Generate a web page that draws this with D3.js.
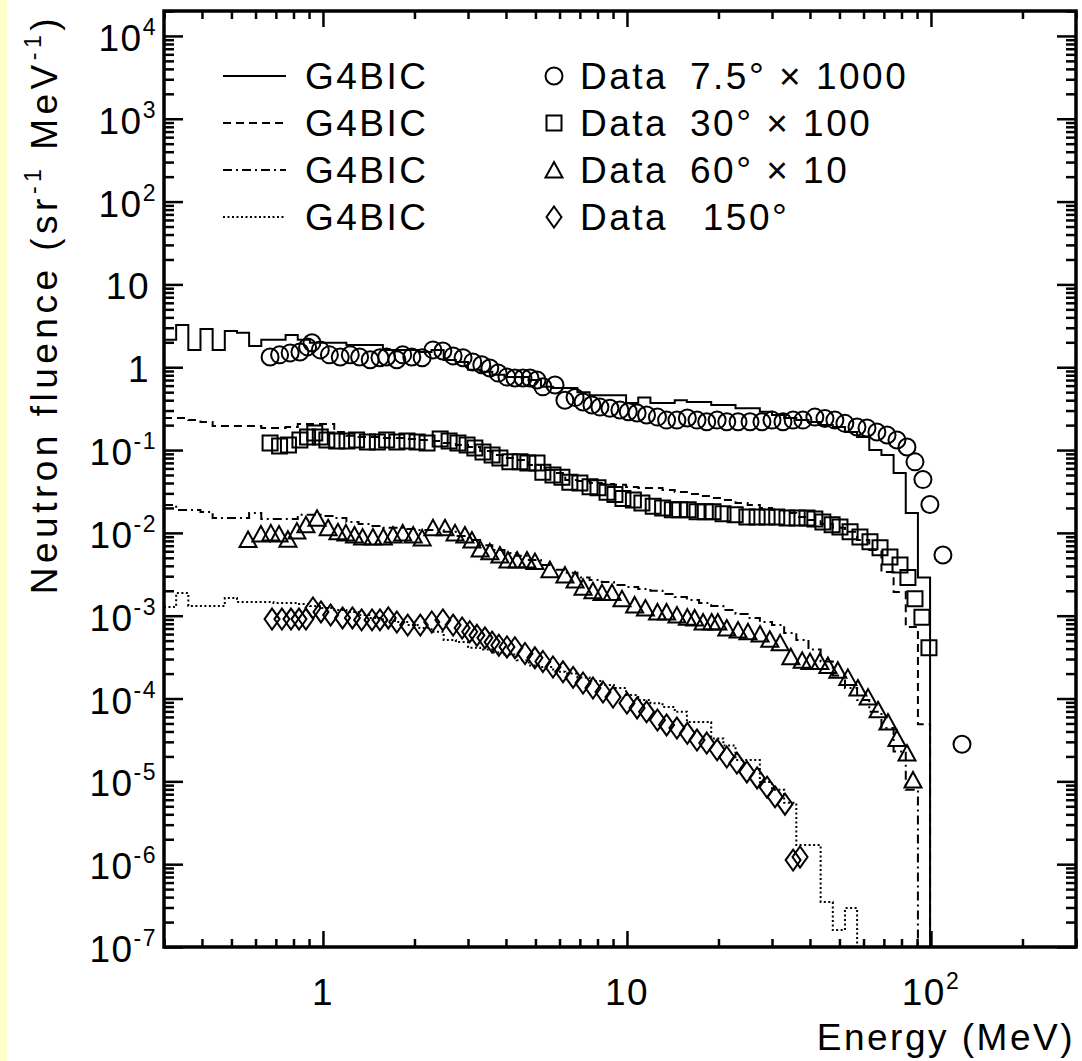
<!DOCTYPE html>
<html lang="en">
  <head>
    <meta charset="UTF-8" />
    <title>Neutron fluence</title>
    <script src="https://cdn.jsdelivr.net/npm/d3@7"></script>
    <style>
      body {
        margin: 0;
        background: #fff;
      }
      svg {
        display: block;
      }
      text {
        font-family: "Liberation Sans", Arial, sans-serif;
        fill: #000;
        letter-spacing: 1.5px;
      }
      .wide {
        letter-spacing: 2.5px;
      }
    </style>
  </head>
  <body>
    <div id="chart"></div>
    <script>
      // simulated histograms use log-uniform bins between these limits
      const binLow = 0.3,
        binHigh = 300,
        nBins = 75;

      // G4BIC, one value per bin (0 = empty bin)
      const sim7 = [
        2.14, 3.24, 1.62, 2.9, 1.62, 2.74, 2.6, 1.81, 2.14, 2.14,
        2.45, 2.14, 1.97, 1.97, 1.97, 1.86, 1.86, 1.86, 1.62, 1.62,
        1.62, 1.53, 1.62, 1.22, 1.16, 0.93, 0.88, 0.81, 0.76, 0.76,
        0.7, 0.58, 0.56, 0.56, 0.5, 0.46, 0.46, 0.46, 0.37, 0.43,
        0.37, 0.37, 0.4, 0.38, 0.38, 0.35, 0.35, 0.32, 0.32, 0.29,
        0.265, 0.244, 0.231, 0.218, 0.2, 0.19, 0.165, 0.144, 0.1, 0.087,
        0.053, 0.0174, 0.0029, 0, 0, 0, 0, 0, 0, 0,
        0, 0, 0, 0, 0,
      ];
      const sim30 = [
        0.244, 0.244, 0.231, 0.218, 0.195, 0.195, 0.195, 0.195, 0.185, 0.185,
        0.19, 0.207, 0.207, 0.207, 0.165, 0.149, 0.144, 0.144, 0.14, 0.14,
        0.136, 0.132, 0.129, 0.122, 0.115, 0.109, 0.0975, 0.0873, 0.0803, 0.0759,
        0.0661, 0.0575, 0.0529, 0.0436, 0.0424, 0.04, 0.039, 0.038, 0.0358, 0.0349,
        0.0349, 0.033, 0.0312, 0.0295, 0.0279, 0.0264, 0.025, 0.023, 0.0217, 0.02,
        0.0189, 0.0174, 0.0156, 0.0143, 0.0128, 0.0115, 0.0103, 0.0082, 0.0062, 0.00337,
        0.00193, 0.00073, 4.9e-5, 0, 0, 0, 0, 0, 0, 0,
        0, 0, 0, 0, 0,
      ];
      const sim60 = [
        0.0217, 0.0189, 0.0189, 0.0179, 0.0151, 0.0151, 0.0151, 0.0174, 0.0147, 0.0147,
        0.0147, 0.0165, 0.0165, 0.016, 0.0151, 0.0135, 0.0128, 0.0121, 0.0115, 0.0115,
        0.0111, 0.0108, 0.0108, 0.0103, 0.0092, 0.0082, 0.0071, 0.0062, 0.0057, 0.0053,
        0.0047, 0.0041, 0.0036, 0.0033, 0.0029, 0.0027, 0.00255, 0.00235, 0.00222, 0.0021,
        0.002, 0.00183, 0.00168, 0.00155, 0.00142, 0.00131, 0.00117, 0.00105, 0.00094, 0.00084,
        0.00077, 0.00062, 0.00051, 0.00039, 0.00028, 0.00019, 0.000134, 9.6e-5, 6.9e-5, 4.4e-5,
        2.3e-5, 7.9e-6, 0, 0, 0, 0, 0, 0, 0, 0,
        0, 0, 0, 0, 0,
      ];
      const sim150 = [
        0.00127, 0.00188, 0.00131, 0.00131, 0.00131, 0.00164, 0.00146, 0.00146, 0.00146, 0.00142,
        0.00142, 0.00138, 0.00131, 0.00124, 0.00117, 0.00111, 0.00102, 0.00094, 0.00089, 0.00084,
        0.00077, 0.00071, 0.00064, 0.00051, 0.00048, 0.00041, 0.00039, 0.00036, 0.00034, 0.00029,
        0.00025, 0.00024, 0.00021, 0.0002, 0.00018, 0.000163, 0.000146, 0.000134, 0.00011, 9.6e-5,
        8.8e-5, 7.9e-5, 6.9e-5, 5.2e-5, 5.2e-5, 3.3e-5, 2.7e-5, 1.81e-5, 1.81e-5, 9.8e-6,
        7.9e-6, 5.5e-6, 1.7e-6, 1.7e-6, 3.5e-7, 1.6e-7, 2.95e-7, 0, 0, 0,
        0, 0, 0, 0, 0, 0, 0, 0, 0, 0,
        0, 0, 0, 0, 0,
      ];

      // measured points: energy (MeV) and fluence
      const e7 = [
        0.67, 0.72, 0.78, 0.84, 0.89, 0.92, 0.98, 1.05, 1.14, 1.23, 1.32, 1.43, 1.54, 1.62, 1.75,
        1.83, 1.96, 2.12, 2.3, 2.48, 2.68, 2.89, 3.11, 3.33, 3.54, 3.77, 4.03, 4.28, 4.55, 4.8,
        5.06, 5.29, 5.8, 6.25, 6.75, 7.17, 7.67, 8.15, 8.79, 9.48, 10.1, 10.8, 11.6, 12.6, 13.5,
        14.6, 15.8, 17.0, 18.3, 19.8, 21.3, 23.2, 25.4, 27.8, 30.0, 32.6, 35.2, 37.9, 41.5, 44.8,
        48.3, 52.1, 57.1, 61.6, 66.4, 71.7, 77.3, 83.4, 88.6, 94.1, 99.2, 109.5, 126.5,
      ];
      const d7 = [
        1.33, 1.41, 1.49, 1.53, 1.76, 1.97, 1.62, 1.41, 1.33, 1.41, 1.33, 1.23, 1.3, 1.33, 1.23,
        1.41, 1.33, 1.3, 1.62, 1.57, 1.37, 1.3, 1.16, 1.07, 0.98, 0.85, 0.76, 0.74, 0.74, 0.74,
        0.7, 0.58, 0.61, 0.4, 0.43, 0.38, 0.35, 0.33, 0.32, 0.305, 0.29, 0.28, 0.265, 0.25, 0.23,
        0.23, 0.244, 0.23, 0.22, 0.23, 0.22, 0.22, 0.22, 0.22, 0.23, 0.22, 0.23, 0.23, 0.25, 0.24,
        0.23, 0.21, 0.19, 0.185, 0.165, 0.152, 0.132, 0.109, 0.072, 0.044, 0.022, 0.0054, 2.8e-5,
      ];
      const e30 = [
        0.67, 0.72, 0.77, 0.84, 0.89, 0.94, 0.98, 1.03, 1.11, 1.2, 1.29, 1.4, 1.51, 1.62, 1.75,
        1.89, 2.04, 2.2, 2.43, 2.6, 2.78, 2.98, 3.16, 3.36, 3.6, 3.82, 4.12, 4.45, 4.72, 5.06,
        5.29, 5.71, 6.11, 6.49, 7.0, 7.56, 8.03, 8.6, 9.13, 9.7, 10.5, 11.2, 12.2, 13.1, 14.1,
        14.9, 15.9, 17.0, 18.1, 19.2, 20.7, 22.7, 24.8, 26.8, 28.9, 31.1, 33.6, 36.3, 39.1, 41.5,
        44.1, 47.3, 50.2, 54.2, 58.4, 63.0, 68.0, 73.3, 79.1, 84.0, 88.6, 93.4, 98.5,
      ];
      const d30 = [
        0.122, 0.112, 0.115, 0.132, 0.144, 0.161, 0.144, 0.132, 0.129, 0.129, 0.132, 0.125, 0.125, 0.132, 0.125,
        0.129, 0.125, 0.122, 0.136, 0.129, 0.122, 0.115, 0.106, 0.095, 0.087, 0.08, 0.072, 0.072, 0.07, 0.07,
        0.054, 0.05, 0.047, 0.041, 0.04, 0.036, 0.035, 0.031, 0.029, 0.026, 0.025, 0.023, 0.021, 0.02, 0.019,
        0.019, 0.019, 0.018, 0.018, 0.018, 0.017, 0.0165, 0.0156, 0.0156, 0.0156, 0.0156, 0.0151, 0.0151, 0.0151, 0.0147,
        0.0135, 0.0125, 0.0118, 0.0103, 0.0089, 0.0078, 0.0066, 0.0051, 0.0041, 0.0029, 0.0016, 0.00096, 0.00041,
      ];
      const e60 = [
        0.567, 0.625, 0.674, 0.717, 0.767, 0.821, 0.879, 0.956, 1.04, 1.12, 1.19, 1.27, 1.35, 1.46, 1.58,
        1.7, 1.83, 1.98, 2.12, 2.3, 2.52, 2.72, 2.93, 3.09, 3.29, 3.54, 3.82, 4.06, 4.35, 4.69,
        4.98, 5.58, 6.25, 6.75, 7.17, 7.73, 8.28, 8.93, 9.63, 10.6, 11.5, 12.6, 13.5, 14.6, 15.8,
        16.7, 17.8, 19.0, 19.9, 21.3, 23.2, 25.0, 27.4, 29.5, 31.9, 34.6, 37.7, 40.0, 43.1, 45.8,
        49.4, 53.3, 57.5, 62.1, 67.0, 72.2, 77.3, 83.4, 87.3,
      ];
      const d60 = [
        0.0083, 0.0097, 0.01, 0.0097, 0.0084, 0.0105, 0.0125, 0.015, 0.0115, 0.0103, 0.01, 0.0094, 0.0089, 0.0089, 0.0089,
        0.0094, 0.01, 0.0094, 0.0087, 0.0115, 0.0115, 0.01, 0.0094, 0.0082, 0.0064, 0.0059, 0.0054, 0.0047, 0.0047, 0.0047,
        0.0045, 0.0036, 0.0031, 0.0027, 0.0022, 0.002, 0.0019, 0.0019, 0.0016, 0.00135, 0.00124, 0.00111, 0.00111, 0.00102, 0.00096,
        0.00094, 0.00084, 0.00084, 0.00084, 0.00071, 0.00067, 0.00064, 0.0006, 0.00052, 0.00047, 0.00032, 0.00029, 0.00028, 0.00028, 0.00025,
        0.00022, 0.00018, 0.000134, 0.000104, 7.3e-5, 5.2e-5, 3.3e-5, 2.2e-5, 1.04e-5,
      ];
      const e150 = [
        0.68, 0.733, 0.785, 0.834, 0.879, 0.927, 0.985, 1.06, 1.16, 1.25, 1.34, 1.45, 1.54, 1.64, 1.75,
        1.9, 2.09, 2.28, 2.48, 2.68, 2.87, 3.04, 3.21, 3.41, 3.6, 3.79, 4.03, 4.28, 4.62, 4.98,
        5.29, 5.71, 6.16, 6.65, 7.17, 7.73, 8.34, 9.0, 10.0, 10.8, 11.6, 12.6, 13.5, 14.6, 15.8,
        17.0, 18.3, 19.8, 21.3, 23.0, 24.8, 26.8, 28.9, 30.7, 33.1, 35.2, 37.1,
      ];
      const d150 = [
        0.00091, 0.00091, 0.00091, 0.00091, 0.00091, 0.00124, 0.00111, 0.00102, 0.00094, 0.00094, 0.00089, 0.00089, 0.00089, 0.00094, 0.00084,
        0.00077, 0.00077, 0.00084, 0.00089, 0.00077, 0.00071, 0.00064, 0.00058, 0.00054, 0.00048, 0.00044, 0.00042, 0.00041, 0.00035, 0.00031,
        0.00028, 0.00024, 0.00021, 0.00018, 0.000154, 0.000134, 0.00012, 0.000104, 8.8e-5, 7.7e-5, 6.9e-5, 5.5e-5, 4.8e-5, 4.4e-5, 3.8e-5,
        3.15e-5, 2.9e-5, 2.4e-5, 1.97e-5, 1.66e-5, 1.3e-5, 1.1e-5, 8.5e-6, 6.5e-6, 5.3e-6, 1.12e-6, 1.22e-6,
      ];

      // axis ticks and labels
      const xTickValues = [1, 10, 100];
      const xTickLabels = ["1", "10", "10^2"];
      const yTickValues = [1e-7, 1e-6, 1e-5, 1e-4, 1e-3, 1e-2, 1e-1, 1, 10, 100, 1e3, 1e4];
      const yTickLabels = ["10^-7", "10^-6", "10^-5", "10^-4", "10^-3", "10^-2", "10^-1", "1", "10", "10^2", "10^3", "10^4"];

      // legend texts
      const simNames = ["G4BIC", "G4BIC", "G4BIC", "G4BIC"];
      const dataNames = ["7.5° × 1000", "30° × 100", "60° × 10", " 150°"];

      const series = [
        { sim: sim7, e: e7, d: d7, dash: null, marker: "circle" },
        { sim: sim30, e: e30, d: d30, dash: "8,5", marker: "square" },
        { sim: sim60, e: e60, d: d60, dash: "9,4,2,4", marker: "triangle" },
        { sim: sim150, e: e150, d: d150, dash: "2,2.5", marker: "diamond" },
      ];

      const W = 1082,
        H = 1061;
      const frame = { left: 164, right: 1076, top: 11, bottom: 947 };

      const svg = d3.select("#chart").append("svg").attr("width", W).attr("height", H);
      svg.append("rect").attr("width", W).attr("height", H).attr("fill", "#fff");
      svg.append("rect").attr("width", 7).attr("height", H).attr("fill", "#ffffcc");

      const x = d3.scaleLog().domain([0.3, 300]).range([frame.left, frame.right]);
      const y = d3.scaleLog().domain([1e-7, 2e4]).range([frame.bottom, frame.top]);

      const edges = d3.range(nBins + 1).map((i) => binLow * Math.pow(binHigh / binLow, i / nBins));

      svg
        .append("clipPath")
        .attr("id", "clip")
        .append("rect")
        .attr("x", frame.left)
        .attr("y", frame.top)
        .attr("width", frame.right - frame.left)
        .attr("height", frame.bottom - frame.top);

      const plot = svg.append("g").attr("clip-path", "url(#clip)");

      // step histogram, empty bins drop below the frame
      function histPath(vals) {
        const p = d3.path();
        vals.forEach((v, i) => {
          const yy = v > 0 ? y(v) : frame.bottom + 40;
          if (i === 0) p.moveTo(x(edges[0]), yy);
          else p.lineTo(x(edges[i]), yy);
          p.lineTo(x(edges[i + 1]), yy);
        });
        return p.toString();
      }

      function markerPath(type) {
        const p = d3.path();
        if (type === "circle") {
          p.arc(0, 0, 8.5, 0, 2 * Math.PI);
        } else if (type === "square") {
          p.rect(-7.5, -7.5, 15, 15);
        } else if (type === "triangle") {
          p.moveTo(0, -8);
          p.lineTo(8.5, 7.5);
          p.lineTo(-8.5, 7.5);
          p.closePath();
        } else {
          p.moveTo(0, -10.5);
          p.lineTo(7.5, 0);
          p.lineTo(0, 10.5);
          p.lineTo(-7.5, 0);
          p.closePath();
        }
        return p.toString();
      }

      series.forEach((s) => {
        plot
          .append("path")
          .attr("d", histPath(s.sim))
          .attr("fill", "none")
          .attr("stroke", "#000")
          .attr("stroke-width", 2)
          .attr("stroke-dasharray", s.dash);
      });

      series.forEach((s) => {
        plot
          .append("g")
          .selectAll("path")
          .data(s.e.map((e, i) => [e, s.d[i]]))
          .join("path")
          .attr("transform", (d) => `translate(${x(d[0])},${y(d[1])})`)
          .attr("d", markerPath(s.marker))
          .attr("fill", "none")
          .attr("stroke", "#000")
          .attr("stroke-width", 2);
      });

      // ticks on all four sides, pointing inward
      const yMinor = [];
      for (let p = -7; p <= 4; p++) for (let k = 2; k <= 9; k++) if (k * 10 ** p <= 2e4) yMinor.push(k * 10 ** p);
      const xMinor = [];
      for (let p = -1; p <= 2; p++) for (let k = 2; k <= 9; k++) if (k * 10 ** p >= 0.3 && k * 10 ** p <= 300) xMinor.push(k * 10 ** p);

      function drawAxis(axis, tx, ty) {
        svg
          .append("g")
          .attr("transform", `translate(${tx},${ty})`)
          .call(axis.tickFormat(""))
          .call((g) => g.select(".domain").remove())
          .call((g) => g.selectAll("line").attr("stroke", "#000").attr("stroke-width", 2.5));
      }
      drawAxis(d3.axisLeft(y).tickValues(yTickValues).tickSize(-19), frame.left, 0);
      drawAxis(d3.axisLeft(y).tickValues(yMinor).tickSize(-10), frame.left, 0);
      drawAxis(d3.axisRight(y).tickValues(yTickValues).tickSize(-19), frame.right, 0);
      drawAxis(d3.axisRight(y).tickValues(yMinor).tickSize(-10), frame.right, 0);
      drawAxis(d3.axisBottom(x).tickValues(xTickValues).tickSize(-16), 0, frame.bottom);
      drawAxis(d3.axisBottom(x).tickValues(xMinor).tickSize(-8), 0, frame.bottom);
      drawAxis(d3.axisTop(x).tickValues(xTickValues).tickSize(-16), 0, frame.top);
      drawAxis(d3.axisTop(x).tickValues(xMinor).tickSize(-8), 0, frame.top);

      svg
        .append("rect")
        .attr("x", frame.left)
        .attr("y", frame.top)
        .attr("width", frame.right - frame.left)
        .attr("height", frame.bottom - frame.top)
        .attr("fill", "none")
        .attr("stroke", "#000")
        .attr("stroke-width", 3.5);

      // label with optional superscript, written as base^exp
      function addLabel(sel, label, size, supSize, rise) {
        const [base, exp] = label.split("^");
        sel.append("tspan").attr("font-size", size).text(base);
        if (exp) sel.append("tspan").attr("font-size", supSize).attr("dy", -rise).text(exp);
      }

      yTickValues.forEach((v, i) => {
        const lab = yTickLabels[i];
        const t = svg
          .append("text")
          .attr("x", lab.includes("^") ? 157 : 150)
          .attr("y", y(v) + 15)
          .attr("text-anchor", "end");
        addLabel(t, lab, 37, 23, 16);
      });

      xTickValues.forEach((v, i) => {
        const t = svg.append("text").attr("x", x(v)).attr("y", 1005).attr("text-anchor", "middle");
        addLabel(t, xTickLabels[i], 37, 23, 16);
      });

      svg
        .append("text")
        .attr("class", "wide")
        .attr("x", 1075)
        .attr("y", 1050)
        .attr("text-anchor", "end")
        .attr("font-size", 37)
        .text("Energy (MeV)");

      const yTitle = svg
        .append("text")
        .attr("transform", "translate(57,14) rotate(-90)")
        .attr("text-anchor", "end")
        .attr("font-size", 37)
        .style("letter-spacing", "4.5px");
      yTitle.append("tspan").text("Neutron fluence (sr");
      yTitle.append("tspan").attr("font-size", 23).attr("dy", -16).text("-1");
      yTitle.append("tspan").attr("dy", 16).text(" MeV");
      yTitle.append("tspan").attr("font-size", 23).attr("dy", -16).text("-1");
      yTitle.append("tspan").attr("dy", 16).text(")");

      // legend
      const legendTop = 76,
        legendStep = 47;
      series.forEach((s, i) => {
        const ly = legendTop + i * legendStep;
        svg
          .append("line")
          .attr("x1", 223)
          .attr("x2", 286)
          .attr("y1", ly)
          .attr("y2", ly)
          .attr("stroke", "#000")
          .attr("stroke-width", 2)
          .attr("stroke-dasharray", s.dash);
        svg.append("text").attr("class", "wide").attr("x", 305).attr("y", ly + 13).attr("font-size", 37).text(simNames[i]);
        svg
          .append("path")
          .attr("transform", `translate(554,${ly})`)
          .attr("d", markerPath(s.marker))
          .attr("fill", "none")
          .attr("stroke", "#000")
          .attr("stroke-width", 2);
        svg.append("text").attr("class", "wide").attr("x", 580).attr("y", ly + 13).attr("font-size", 37).text("Data");
        svg
          .append("text")
          .attr("class", "wide")
          .attr("x", 690)
          .attr("y", ly + 13)
          .attr("font-size", 37)
          .style("white-space", "pre")
          .text(dataNames[i]);
      });
    </script>
  </body>
</html>
